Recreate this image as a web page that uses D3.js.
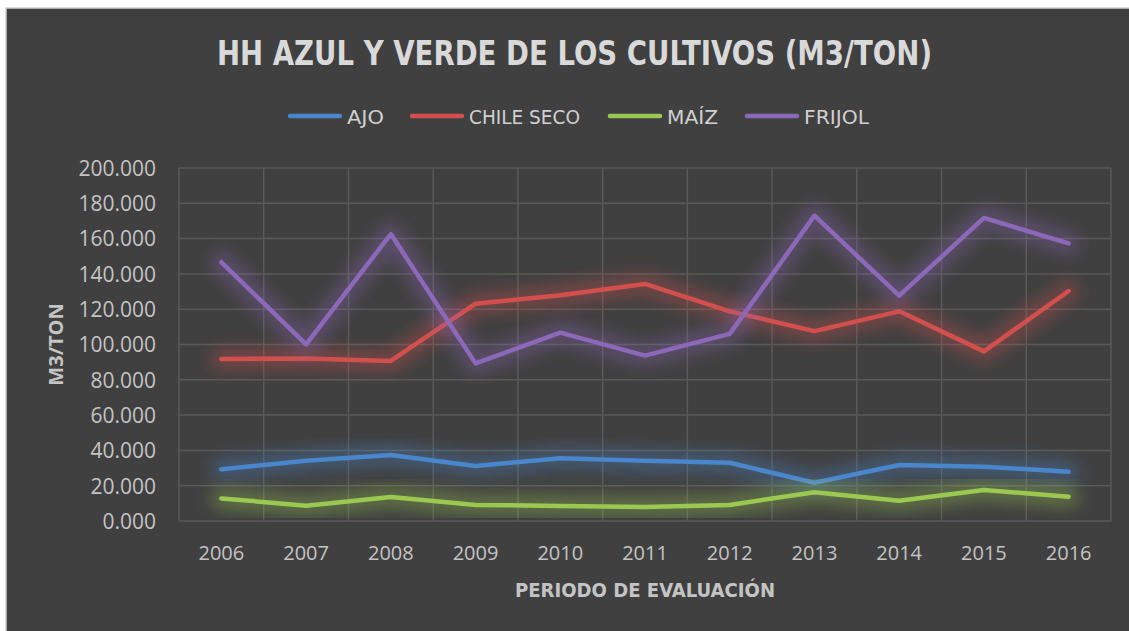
<!DOCTYPE html>
<html>
<head>
<meta charset="utf-8">
<script src="https://cdn.jsdelivr.net/npm/d3@7"></script>
<style>
  html, body { margin: 0; padding: 0; background: #ffffff; }
  svg { display: block; }
</style>
</head>
<body>
<svg id="chart" width="1129" height="631"></svg>
<script>
// Years of the evaluation period
const years = ["2006","2007","2008","2009","2010","2011","2012","2013","2014","2015","2016"];

// Blue + green water footprint per crop (m3/ton)
const ajo       = [29.3, 34.2, 37.4, 31.2, 35.5, 34.2, 33.0, 21.7, 31.7, 30.8, 27.9];
const chileSeco = [91.8, 92.0, 90.7, 123.1, 127.9, 134.3, 118.8, 107.6, 118.8, 96.1, 130.3];
const maiz      = [12.8, 8.7, 13.6, 9.1, 8.5, 7.9, 9.1, 16.3, 11.5, 17.6, 13.8];
const frijol    = [146.6, 100.1, 162.6, 89.3, 106.7, 93.7, 106.0, 173.0, 127.7, 171.7, 157.3];

const seriesNames = ["AJO", "CHILE SECO", "MAÍZ", "FRIJOL"];
const seriesValues = [ajo, chileSeco, maiz, frijol];
const seriesColors = ["#4a86cb", "#d24f4d", "#9bc850", "#8c68b8"];

const yTicks = [0, 20, 40, 60, 80, 100, 120, 140, 160, 180, 200];

const svg = d3.select("#chart");

// Chart frame
svg.append("rect").attr("x", 6).attr("y", 8).attr("width", 1140).attr("height", 640)
  .attr("fill", "#404040").attr("stroke", "#cfcfcf").attr("stroke-width", 1.5);

const plot = { left: 179, right: 1111, top: 168, bottom: 521 };

const x = d3.scaleBand().domain(years).range([plot.left, plot.right]);
const y = d3.scaleLinear().domain([0, 200]).range([plot.bottom, plot.top]);
const cx = d => x(d) + x.bandwidth() / 2;

// Soft glow filter under each line
const defs = svg.append("defs");
defs.append("filter").attr("id", "glow")
  .attr("x", "-20%").attr("y", "-60%").attr("width", "140%").attr("height", "220%")
  .append("feGaussianBlur").attr("stdDeviation", 8);

// Gridlines
const grid = svg.append("g").attr("stroke", "#595959").attr("stroke-width", 1.5);
grid.selectAll("line.h").data(yTicks).join("line")
  .attr("x1", plot.left).attr("x2", plot.right)
  .attr("y1", d => y(d)).attr("y2", d => y(d));
const edges = years.map(d => x(d)).concat([plot.right]);
grid.selectAll("line.v").data(edges).join("line")
  .attr("x1", d => d).attr("x2", d => d)
  .attr("y1", plot.top).attr("y2", plot.bottom);

// Y axis labels
const yAxis = d3.axisLeft(y).tickValues(yTicks).tickSize(0).tickPadding(0)
  .tickFormat(d => d3.format(".3f")(d));
const yG = svg.append("g").attr("transform", `translate(156,0)`).call(yAxis);
yG.select(".domain").remove();
yG.selectAll("text").attr("font-family", "'Open Sans', sans-serif").attr("font-size", 21)
  .attr("fill", "#c4c4c4").attr("dy", "0.35em");

// X axis labels
const xAxis = d3.axisBottom(x).tickSize(0).tickPadding(0);
const xG = svg.append("g").attr("transform", `translate(0,${plot.bottom})`).call(xAxis);
xG.select(".domain").remove();
xG.selectAll("text").attr("font-family", "'Open Sans', sans-serif").attr("font-size", 20)
  .attr("fill", "#c4c4c4").attr("y", 0).attr("dy", 39);

// Lines with glow
const line = d3.line().x((d, i) => cx(years[i])).y(d => y(d));
seriesValues.forEach((vals, i) => {
  const g = svg.append("g");
  g.append("path").attr("d", line(vals)).attr("fill", "none")
    .attr("stroke", seriesColors[i]).attr("stroke-width", 22).attr("stroke-opacity", 0.35)
    .attr("stroke-linejoin", "round").attr("stroke-linecap", "round")
    .attr("filter", "url(#glow)");
  g.append("path").attr("d", line(vals)).attr("fill", "none")
    .attr("stroke", seriesColors[i]).attr("stroke-width", 4.5)
    .attr("stroke-linejoin", "round").attr("stroke-linecap", "round");
});

const narrow = "'Liberation Sans Narrow', 'DejaVu Sans Condensed', 'Open Sans', sans-serif";

// Title
svg.append("text").attr("x", 574.5).attr("y", 65).attr("text-anchor", "middle")
  .attr("font-family", narrow).attr("font-weight", "bold").attr("font-size", 34)
  .attr("fill", "#d9d9d9").attr("textLength", 715).attr("lengthAdjust", "spacingAndGlyphs")
  .text("HH AZUL Y VERDE DE LOS CULTIVOS (M3/TON)");

// Legend
const legendX = [288, 410, 608, 745];
const legendW = [37, 111, 51, 65];
const legend = svg.append("g");
seriesNames.forEach((name, i) => {
  legend.append("line").attr("x1", legendX[i] + 2).attr("x2", legendX[i] + 52)
    .attr("y1", 116).attr("y2", 116)
    .attr("stroke", seriesColors[i]).attr("stroke-width", 4.5).attr("stroke-linecap", "round");
  legend.append("text").attr("x", legendX[i] + 59).attr("y", 123.5)
    .attr("font-family", narrow).attr("font-size", 20).attr("fill", "#d0d0d0")
    .attr("textLength", legendW[i]).attr("lengthAdjust", "spacingAndGlyphs")
    .text(name);
});

// Axis titles
svg.append("text").attr("x", (plot.left + plot.right) / 2).attr("y", 597)
  .attr("text-anchor", "middle").attr("font-family", narrow).attr("font-weight", "bold")
  .attr("font-size", 20).attr("fill", "#c4c4c4")
  .attr("textLength", 260).attr("lengthAdjust", "spacingAndGlyphs")
  .text("PERIODO DE EVALUACIÓN");

svg.append("text").attr("transform", `translate(63,${(plot.top + plot.bottom) / 2}) rotate(-90)`)
  .attr("text-anchor", "middle").attr("font-family", "'Open Sans', sans-serif").attr("font-weight", "bold")
  .attr("font-size", 20).attr("fill", "#c4c4c4")
  .text("M3/TON");
</script>
</body>
</html>
